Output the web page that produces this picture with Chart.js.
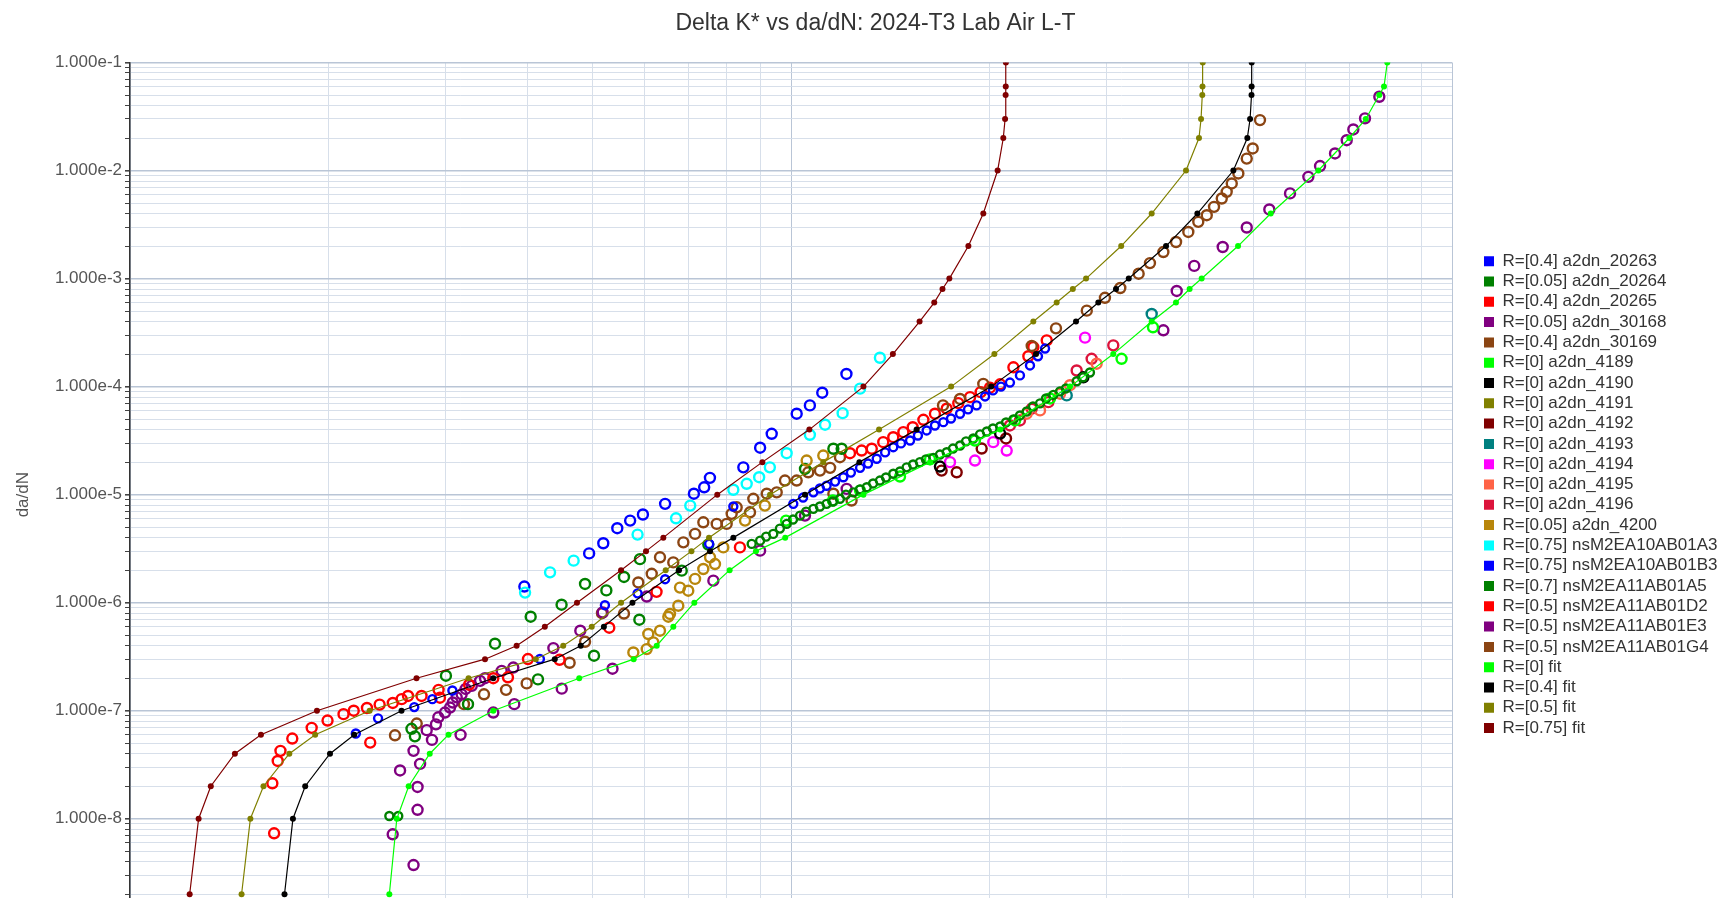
<!DOCTYPE html>
<html>
<head>
<meta charset="utf-8">
<title>Delta K* vs da/dN</title>
<script src="https://cdn.jsdelivr.net/npm/chart.js@4.4.1/dist/chart.umd.min.js"></script>
<style>
  html, body { margin: 0; padding: 0; background: #ffffff; overflow: hidden; }
  canvas { display: block; }
</style>
</head>
<body>
<canvas id="crackChart" width="1751" height="940"></canvas>
<script>
// ---- Axis ticks ----------------------------------------------------------
const yTickExponents = [-9, -8, -7, -6, -5, -4, -3, -2, -1];
const xTickExponents = [0, 1, 2];
const gridMantissas = [1, 2, 3, 4, 5, 6, 7, 8, 9];

// ---- Fit curves: common da/dN levels and Delta K* per stress ratio -------
const fitDadn = [2e-9, 1e-8, 2e-8, 4e-8, 6e-8, 1e-7, 2e-7, 3e-7, 4e-7, 6e-7,
  1e-6, 2e-6, 3e-6, 4e-6, 1e-5, 2e-5, 4e-5, 1e-4, 2e-4, 4e-4,
  6e-4, 8e-4, 1e-3, 2e-3, 4e-3, 1e-2, 2e-2, 3e-2, 5e-2, 6e-2, 1e-1];
const fitDkR0 = [2.468, 2.533, 2.640, 2.841, 3.033, 3.545, 4.782, 5.781, 6.264, 6.637,
  7.141, 8.075, 8.851, 9.80, 12.87, 16.23, 20.72, 26.43, 30.73, 35.13,
  38.23, 40.09, 41.81, 47.46, 53.18, 62.78, 69.95, 74.06, 77.62, 78.91, 79.82];
const fitDkR04 = [1.713, 1.764, 1.841, 2.007, 2.184, 2.575, 3.545, 4.391, 4.807, 5.211,
  5.756, 6.77, 7.543, 8.18, 10.50, 12.69, 15.49, 20.09, 23.48, 26.99,
  29.17, 31.02, 32.43, 36.93, 41.19, 46.69, 49.02, 49.49, 49.74, 49.76, 49.77];
const fitDkR05 = [1.475, 1.521, 1.592, 1.742, 1.906, 2.304, 3.252, 4.110, 4.523, 4.995,
  5.532, 6.463, 7.07, 7.515, 9.295, 11.19, 13.59, 17.47, 20.31, 23.26,
  25.23, 26.69, 27.95, 31.59, 35.13, 39.59, 41.42, 41.72, 41.90, 41.93, 41.97];
const fitDkR075 = [1.231, 1.270, 1.325, 1.441, 1.578, 1.918, 2.713, 3.444, 3.845, 4.242,
  4.745, 5.532, 6.035, 6.41, 7.735, 9.05, 10.66, 12.87, 14.26, 15.65,
  16.47, 16.95, 17.36, 18.55, 19.54, 20.54, 20.95, 21.08, 21.12, 21.13, 21.14];

// ---- Test data (Delta K*, da/dN) ------------------------------------------
const dk20263 = [2.196, 2.373, 2.692, 2.867, 3.074, 4.17, 5.23, 5.86, 6.45, 7.52, 8.18,
  10.08, 10.43, 10.81, 11.06, 11.32, 11.66, 12.00, 12.32, 12.72, 13.08,
  13.48, 13.88, 14.28, 14.67, 15.14, 15.56, 16.04, 16.51, 17.00, 17.46,
  18.02, 18.53, 19.09, 19.66, 20.21, 20.78, 21.44, 22.20, 22.99, 23.64, 24.23];
const dadn20263 = [6.15e-8, 8.50e-8, 1.08e-7, 1.28e-7, 1.54e-7, 3.01e-7, 9.48e-7, 1.22e-6, 1.65e-6, 3.50e-6, 7.76e-6,
  8.22e-6, 9.40e-6, 1.05e-5, 1.14e-5, 1.21e-5, 1.32e-5, 1.45e-5, 1.60e-5, 1.77e-5, 1.94e-5,
  2.15e-5, 2.46e-5, 2.75e-5, 2.98e-5, 3.17e-5, 3.53e-5, 3.93e-5, 4.37e-5, 4.69e-5, 5.07e-5,
  5.61e-5, 6.15e-5, 6.70e-5, 8.11e-5, 9.22e-5, 1.00e-4, 1.09e-4, 1.27e-4, 1.57e-4, 1.91e-4, 2.25e-4];

const dk20264 = [2.468, 2.546,
  8.72, 8.98, 9.17, 9.40, 9.62, 9.85, 10.07, 10.32, 10.54, 10.81,
  11.06, 11.32, 11.57, 11.86, 12.11, 12.43, 12.72, 13.02, 13.31, 13.63,
  13.92, 14.28, 14.62, 14.96, 15.30, 15.67, 16.00, 16.42, 16.80, 17.20,
  17.58, 18.02, 18.40, 18.87, 19.32, 19.78, 20.21, 20.72, 21.15, 21.70,
  22.20, 22.73, 23.23, 23.81, 24.31, 24.94, 25.53, 26.06, 27.05, 27.66, 28.33];
const dadn20264 = [1.06e-8, 1.06e-8,
  3.50e-6, 3.75e-6, 4.09e-6, 4.33e-6, 4.85e-6, 5.36e-6, 5.88e-6, 6.40e-6, 6.97e-6, 7.39e-6,
  7.76e-6, 8.22e-6, 8.63e-6, 9.15e-6, 1.00e-5, 1.05e-5, 1.12e-5, 1.17e-5, 1.27e-5, 1.35e-5,
  1.44e-5, 1.56e-5, 1.64e-5, 1.79e-5, 1.90e-5, 2.00e-5, 2.12e-5, 2.19e-5, 2.35e-5, 2.47e-5,
  2.67e-5, 2.85e-5, 3.11e-5, 3.31e-5, 3.61e-5, 3.84e-5, 4.10e-5, 4.28e-5, 4.66e-5, 4.97e-5,
  5.41e-5, 5.89e-5, 6.55e-5, 6.99e-5, 7.77e-5, 8.38e-5, 9.03e-5, 9.62e-5, 1.12e-4, 1.22e-4, 1.35e-4];

const dk20265 = [1.652, 1.642, 1.673, 1.689, 1.760, 1.883, 1.990, 2.104, 2.180, 2.283,
  2.386, 2.498, 2.576, 2.634, 2.761, 2.930, 2.944, 2.309, 3.258, 3.545,
  3.731, 4.000, 4.466, 5.31, 6.26];
const dadn20265 = [7.34e-9, 2.13e-8, 3.43e-8, 4.25e-8, 5.53e-8, 6.94e-8, 8.11e-8, 9.30e-8, 1.00e-7, 1.06e-7,
  1.14e-7, 1.18e-7, 1.28e-7, 1.37e-7, 1.37e-7, 1.56e-7, 1.32e-7, 5.07e-8, 1.74e-7, 2.00e-7,
  2.04e-7, 3.01e-7, 2.96e-7, 5.87e-7, 1.26e-6];

const dk30168 = [2.685, 2.497, 2.723, 2.723, 2.562, 2.747, 2.685, 2.863, 2.811, 3.163,
  2.903, 2.927, 2.996, 3.049, 3.078, 3.121, 3.175, 3.220, 3.289, 3.385,
  3.444, 3.545, 3.650, 3.801, 3.814];
const dadn30168 = [3.73e-9, 7.18e-9, 1.21e-8, 1.97e-8, 2.80e-8, 3.22e-8, 4.25e-8, 5.37e-8, 6.61e-8, 5.98e-8,
  7.48e-8, 8.69e-8, 9.62e-8, 1.07e-7, 1.19e-7, 1.33e-7, 1.42e-7, 1.59e-7, 1.70e-7, 1.89e-7,
  2.00e-7, 9.62e-8, 2.34e-7, 2.51e-7, 1.15e-7];

const dk30169 = [16.98, 18.02, 19.54, 23.13, 25.17, 28.02, 29.85, 31.49, 33.57, 34.92,
  36.59, 38.24, 39.91, 41.32, 42.56, 43.65, 44.84, 45.62, 46.43, 47.51,
  48.92, 49.95, 51.23];
const dadn30169 = [6.70e-5, 7.69e-5, 1.06e-4, 2.38e-4, 3.46e-4, 5.05e-4, 6.64e-4, 8.18e-4, 1.11e-3, 1.39e-3,
  1.76e-3, 2.18e-3, 2.70e-3, 3.35e-3, 3.86e-3, 4.61e-3, 5.51e-3, 6.35e-3, 7.59e-3, 9.40e-3,
  1.29e-2, 1.60e-2, 2.93e-2];

const dk4189 = [9.83, 11.57, 12.72, 14.62, 16.23, 18.98, 21.83, 24.65, 31.63, 35.29];
const dadn4189 = [5.75e-6, 8.82e-6, 1.09e-5, 1.47e-5, 2.12e-5, 3.17e-5, 4.86e-5, 7.77e-5, 1.81e-4, 3.54e-4];

const dk4190 = [16.80, 20.72, 27.69];
const dadn4190 = [1.82e-5, 3.68e-5, 1.22e-4];

const dk4191 = [];
const dadn4191 = [];

const dk4192 = [16.90, 17.81, 19.43, 21.15];
const dadn4192 = [1.67e-5, 1.61e-5, 2.67e-5, 3.31e-5];

const dk4193 = [26.13, 35.13];
const dadn4193 = [8.29e-5, 4.70e-4];

const dk4194 = [17.40, 18.98, 20.23, 21.20, 27.85];
const dadn4194 = [2.00e-5, 2.07e-5, 3.06e-5, 2.56e-5, 2.84e-4];

const dk4195 = [22.73, 23.81, 25.53, 26.43, 29.00];
const dadn4195 = [5.61e-5, 6.02e-5, 8.60e-5, 1.03e-4, 1.63e-4];

const dk4196 = [21.44, 22.20, 23.13, 24.51, 27.05, 28.50, 30.73];
const dadn4196 = [4.37e-5, 4.86e-5, 6.24e-5, 7.18e-5, 1.41e-4, 1.81e-4, 2.41e-4];

const dk4200 = [5.774, 6.049, 6.190, 6.336, 6.522, 6.753, 6.793, 6.992, 7.159, 7.368,
  7.543, 7.674, 7.900, 6.083, 6.560, 8.52, 9.13, 10.56, 11.19];
const dadn4200 = [3.46e-7, 3.72e-7, 4.29e-7, 5.50e-7, 7.42e-7, 9.38e-7, 1.38e-6, 1.29e-6, 1.66e-6, 2.05e-6,
  2.63e-6, 2.28e-6, 3.25e-6, 5.13e-7, 7.86e-7, 5.75e-6, 7.92e-6, 2.07e-5, 2.30e-5];

const dkA3 = [3.96, 4.32, 4.69, 5.86, 6.70, 7.04, 8.18, 8.57, 8.95, 9.29, 9.85, 10.68, 11.26, 11.97, 12.72, 13.63];
const dadnA3 = [1.24e-6, 1.91e-6, 2.45e-6, 4.27e-6, 6.04e-6, 7.92e-6, 1.11e-5, 1.26e-5, 1.45e-5, 1.79e-5,
  2.42e-5, 3.58e-5, 4.44e-5, 5.68e-5, 9.57e-5, 1.85e-4];

const dkB3 = [3.95, 4.95, 5.20, 5.46, 5.71, 5.97, 6.45, 7.13, 7.39, 7.54, 8.47, 8.98, 9.35, 10.20, 10.68, 11.15, 12.13];
const dadnB3 = [1.41e-6, 2.86e-6, 3.55e-6, 4.89e-6, 5.75e-6, 6.55e-6, 8.22e-6, 1.02e-5, 1.17e-5, 1.43e-5,
  1.79e-5, 2.72e-5, 3.66e-5, 5.61e-5, 6.70e-5, 8.78e-5, 1.31e-4];

const dkA5 = [2.666, 2.698, 3.006, 3.246, 3.566, 4.038, 4.142, 4.497, 4.880, 5.035,
  5.256, 5.589, 5.909, 5.896, 6.835, 7.497, 10.50, 11.59, 11.93];
const dadnA5 = [6.80e-8, 5.79e-8, 2.11e-7, 1.15e-7, 4.17e-7, 7.42e-7, 1.95e-7, 9.58e-7, 1.49e-6, 3.23e-7,
  1.30e-6, 1.73e-6, 2.53e-6, 6.96e-7, 1.98e-6, 3.45e-6, 1.73e-5, 2.66e-5, 2.66e-5];

const dkD2 = [8.37, 12.28, 12.79, 13.25, 13.79, 14.28, 14.79, 15.28, 15.86, 16.51,
  17.20, 17.91, 18.66, 19.36, 20.00, 20.72, 21.70, 22.86, 23.26, 24.37];
const dadnD2 = [3.25e-6, 2.42e-5, 2.56e-5, 2.66e-5, 3.06e-5, 3.40e-5, 3.79e-5, 4.21e-5, 4.93e-5, 5.61e-5,
  6.24e-5, 7.03e-5, 7.99e-5, 8.89e-5, 9.77e-5, 1.05e-4, 1.51e-4, 1.91e-4, 2.32e-4, 2.68e-4];

const dkE3 = [4.37, 4.50, 4.80, 5.19, 5.37, 6.05, 7.63, 8.98, 10.50, 12.14,
  36.59, 38.33, 40.74, 44.99, 48.92, 52.92, 56.88, 60.63, 63.15, 66.53, 69.30, 70.91, 73.86, 77.63];
const dadnE3 = [3.80e-7, 1.60e-7, 5.50e-7, 8.13e-7, 2.45e-7, 1.14e-6, 1.60e-6, 3.03e-6, 6.40e-6, 1.13e-5,
  3.32e-4, 7.68e-4, 1.31e-3, 1.96e-3, 2.97e-3, 4.36e-3, 6.14e-3, 8.74e-3, 1.10e-2, 1.44e-2, 1.91e-2, 2.40e-2, 3.04e-2, 4.82e-2];

const dkG4 = [2.517, 2.715, 3.201, 3.432, 3.706, 3.982, 4.625, 4.880, 5.176, 5.589,
  5.875, 6.156, 6.336, 6.636, 6.873, 7.159, 7.368, 7.720, 7.992, 8.133,
  8.276, 8.670, 8.770, 9.190, 9.515, 9.792, 10.20, 10.62, 11.06, 11.46,
  11.86, 11.59, 12.35];
const dadnG4 = [5.92e-8, 7.61e-8, 1.15e-7, 1.42e-7, 1.56e-7, 1.79e-7, 2.78e-7, 4.35e-7, 7.99e-7, 7.94e-7,
  1.54e-6, 1.85e-6, 2.63e-6, 2.36e-6, 3.62e-6, 4.33e-6, 5.55e-6, 5.36e-6, 5.36e-6, 6.64e-6,
  7.64e-6, 6.87e-6, 9.15e-6, 1.02e-5, 1.05e-5, 1.35e-5, 1.35e-5, 1.61e-5, 1.67e-5, 1.77e-5,
  2.22e-5, 1.02e-5, 8.82e-6];

// ---- Series definitions ---------------------------------------------------
const testSeries = [
  { label: 'R=[0.4] a2dn_20263',        color: '#0000ff', dk: dk20263, dadn: dadn20263, small: true },
  { label: 'R=[0.05] a2dn_20264',       color: '#008000', dk: dk20264, dadn: dadn20264, small: true },
  { label: 'R=[0.4] a2dn_20265',        color: '#ff0000', dk: dk20265, dadn: dadn20265 },
  { label: 'R=[0.05] a2dn_30168',       color: '#800080', dk: dk30168, dadn: dadn30168 },
  { label: 'R=[0.4] a2dn_30169',        color: '#8b4513', dk: dk30169, dadn: dadn30169 },
  { label: 'R=[0] a2dn_4189',           color: '#00ff00', dk: dk4189,  dadn: dadn4189 },
  { label: 'R=[0] a2dn_4190',           color: '#000000', dk: dk4190,  dadn: dadn4190 },
  { label: 'R=[0] a2dn_4191',           color: '#808000', dk: dk4191,  dadn: dadn4191 },
  { label: 'R=[0] a2dn_4192',           color: '#800000', dk: dk4192,  dadn: dadn4192 },
  { label: 'R=[0] a2dn_4193',           color: '#008080', dk: dk4193,  dadn: dadn4193 },
  { label: 'R=[0] a2dn_4194',           color: '#ff00ff', dk: dk4194,  dadn: dadn4194 },
  { label: 'R=[0] a2dn_4195',           color: '#ff6347', dk: dk4195,  dadn: dadn4195 },
  { label: 'R=[0] a2dn_4196',           color: '#dc143c', dk: dk4196,  dadn: dadn4196 },
  { label: 'R=[0.05] a2dn_4200',        color: '#b8860b', dk: dk4200,  dadn: dadn4200 },
  { label: 'R=[0.75] nsM2EA10AB01A3',   color: '#00ffff', dk: dkA3,    dadn: dadnA3 },
  { label: 'R=[0.75] nsM2EA10AB01B3',   color: '#0000ff', dk: dkB3,    dadn: dadnB3 },
  { label: 'R=[0.7] nsM2EA11AB01A5',    color: '#008000', dk: dkA5,    dadn: dadnA5 },
  { label: 'R=[0.5] nsM2EA11AB01D2',    color: '#ff0000', dk: dkD2,    dadn: dadnD2 },
  { label: 'R=[0.5] nsM2EA11AB01E3',    color: '#800080', dk: dkE3,    dadn: dadnE3 },
  { label: 'R=[0.5] nsM2EA11AB01G4',    color: '#8b4513', dk: dkG4,    dadn: dadnG4 }
];
const fitSeries = [
  { label: 'R=[0] fit',    color: '#00ff00', dk: fitDkR0 },
  { label: 'R=[0.4] fit',  color: '#000000', dk: fitDkR04 },
  { label: 'R=[0.5] fit',  color: '#808000', dk: fitDkR05 },
  { label: 'R=[0.75] fit', color: '#800000', dk: fitDkR075 }
];

const toPoints = (xs, ys) => xs.map((x, i) => ({ x: x, y: ys[i] }));

const datasets = [];
testSeries.forEach(s => {
  datasets.push({
    label: s.label,
    data: toPoints(s.dk, s.dadn),
    showLine: false,
    borderColor: s.color,
    backgroundColor: s.color,
    borderWidth: 0,
    pointStyle: 'circle',
    pointRadius: s.small ? 4 : 5,
    pointBorderWidth: 2.4,
    pointBorderColor: s.color,
    pointBackgroundColor: 'rgba(0,0,0,0)',
    order: 1
  });
});
fitSeries.forEach(s => {
  datasets.push({
    label: s.label,
    data: toPoints(s.dk, fitDadn),
    showLine: true,
    tension: 0,
    borderColor: s.color,
    backgroundColor: s.color,
    borderWidth: 1.2,
    pointStyle: 'circle',
    pointRadius: 3,
    pointBorderWidth: 0,
    pointBackgroundColor: s.color,
    order: 0
  });
});

// ---- Helpers ----------------------------------------------------------------
const isDecade = v => {
  const l = Math.log10(v);
  return Math.abs(l - Math.round(l)) < 1e-6;
};
const logTicks = (exponents) => {
  const out = [];
  exponents.forEach((e, i) => {
    gridMantissas.forEach(m => {
      if (i === exponents.length - 1 && m > 1) return;
      out.push({ value: parseFloat((m * Math.pow(10, e)).toPrecision(6)) });
    });
  });
  return out;
};
const FONT = "'Liberation Sans', Arial, Helvetica, sans-serif";
const gridMajor = '#b9c5d6';
const gridMinor = '#d7dfea';

// Legend entries show a solid colour square for every series.
const solidLegendLabels = chart => {
  const items = Chart.defaults.plugins.legend.labels.generateLabels(chart);
  items.forEach(it => {
    const ds = chart.data.datasets[it.datasetIndex];
    it.fillStyle = ds.backgroundColor;
    it.strokeStyle = ds.backgroundColor;
    it.lineWidth = 0;
    it.pointStyle = undefined;
  });
  return items;
};

// Empty side columns that set the gap around the legend.
const spacerAxis = (width, weight) => ({
  type: 'linear',
  position: 'right',
  display: true,
  weight: weight,
  min: 0,
  max: 1,
  afterFit: s => { s.width = width; },
  ticks: { display: false },
  grid: { display: false, drawTicks: false },
  border: { display: false }
});

new Chart(document.getElementById('crackChart'), {
  type: 'scatter',
  data: { datasets: datasets },
  options: {
    responsive: false,
    animation: false,
    events: [],
    layout: { padding: { left: 0, right: 0, top: 0, bottom: 4.7 } },
    plugins: {
      title: {
        display: true,
        text: 'Delta K* vs da/dN: 2024-T3 Lab Air L-T',
        color: '#333333',
        font: { family: FONT, size: 23, weight: 'normal' },
        padding: { top: 10, bottom: 24.9 }
      },
      legend: {
        position: 'right',
        align: 'center',
        fullSize: false,
        maxWidth: 240,
        labels: {
          boxWidth: 10,
          boxHeight: 10,
          padding: 3.3,
          color: '#333333',
          font: { family: FONT, size: 17 },
          generateLabels: solidLegendLabels,
          sort: (a, b) => a.datasetIndex - b.datasetIndex
        }
      },
      tooltip: { enabled: false }
    },
    scales: {
      x: {
        type: 'logarithmic',
        position: 'bottom',
        min: 1,
        max: 100,
        afterBuildTicks: s => { s.ticks = logTicks(xTickExponents); },
        ticks: { display: false, autoSkip: false },
        grid: {
          drawTicks: false,
          color: c => (c.tick && isDecade(c.tick.value)) ? gridMajor : gridMinor,
          lineWidth: 1
        },
        border: { display: false }
      },
      y: {
        type: 'logarithmic',
        position: 'left',
        min: 1e-9,
        max: 1e-1,
        afterBuildTicks: s => { s.ticks = logTicks(yTickExponents); },
        afterFit: s => { s.width = 130; },
        ticks: {
          autoSkip: false,
          padding: 3,
          color: '#555555',
          font: { family: FONT, size: 17 },
          callback: v => isDecade(v) ? Number(v).toExponential(3) : ''
        },
        grid: {
          drawTicks: true,
          tickLength: 5,
          tickColor: '#444444',
          color: c => (c.tick && isDecade(c.tick.value)) ? gridMajor : gridMinor,
          lineWidth: c => (c.tick && isDecade(c.tick.value)) ? 1.6 : 1
        },
        border: { display: true, color: '#333333', width: 1.5 },
        title: {
          display: true,
          text: 'da/dN',
          color: '#555555',
          font: { family: FONT, size: 17 },
          padding: { top: 12.8, bottom: 4 }
        }
      },
      legendGap: spacerAxis(28.7, 1),
      legendMargin: spacerAxis(30.3, 2000)
    }
  }
});
</script>
</body>
</html>
